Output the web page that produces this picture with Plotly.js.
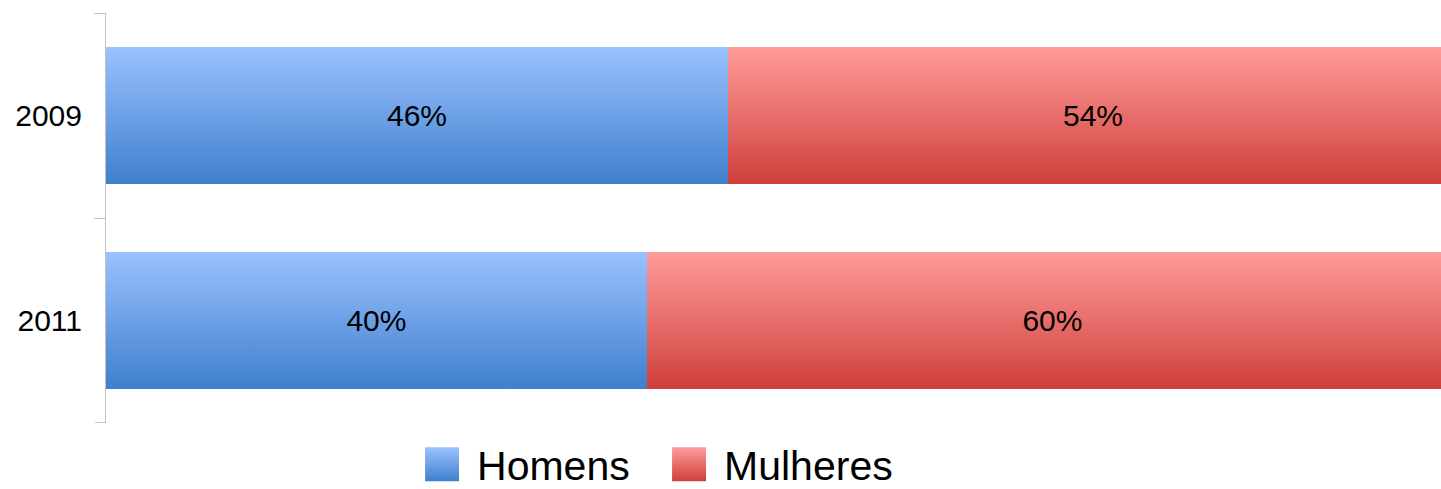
<!DOCTYPE html>
<html>
<head>
<meta charset="utf-8">
<script src="https://cdn.plot.ly/plotly-3.0.1.min.js"></script>
<style>
  html, body { margin: 0; padding: 0; background: #ffffff; }
  #chart { width: 1441px; height: 489px; }
</style>
</head>
<body>
<div id="chart"></div>
<script>
var years = ['2009', '2011'];
var seriesNames = ['Homens', 'Mulheres'];
var homens = [46, 40];
var mulheres = [54, 60];

var gradients = [
  { top: '#9ac2ff', bottom: '#3f7fcd' },
  { top: '#ff9c9a', bottom: '#cf3f3b' }
];
var midColors = ['#6a9ee6', '#e76e6a'];

var fontFamily = '"Liberation Sans", Arial, sans-serif';

function makeTrace(name, vals, color) {
  return {
    type: 'bar',
    orientation: 'h',
    name: name,
    y: years,
    x: vals,
    texttemplate: '%{x}%',
    textposition: 'inside',
    insidetextanchor: 'middle',
    insidetextfont: { family: fontFamily, size: 30, color: '#000000' },
    textangle: 0,
    constraintext: 'none',
    cliponaxis: true,
    marker: { color: color, line: { width: 0 } },
    hoverinfo: 'none'
  };
}

var data = [
  makeTrace(seriesNames[0], homens, midColors[0]),
  makeTrace(seriesNames[1], mulheres, midColors[1])
];

var axisGrey = '#c0c0c0';

var layout = {
  width: 1441,
  height: 489,
  margin: { l: 106, r: 0, t: 13, b: 66, pad: 0, autoexpand: false },
  paper_bgcolor: '#ffffff',
  plot_bgcolor: '#ffffff',
  barmode: 'stack',
  bargap: 0.33,
  font: { family: fontFamily, color: '#000000' },
  showlegend: true,
  legend: {
    orientation: 'h',
    x: 0.233,
    xanchor: 'left',
    y: -0.02,
    yanchor: 'top',
    itemwidth: 50,
    entrywidth: 182,
    font: { family: fontFamily, size: 41, color: '#000000' },
    traceorder: 'normal',
    bgcolor: 'rgba(0,0,0,0)'
  },
  xaxis: {
    range: [0, 98.74],
    visible: false,
    fixedrange: true
  },
  yaxis: {
    type: 'category',
    range: [1.502, -0.502],
    showline: true,
    linecolor: axisGrey,
    linewidth: 1,
    ticks: 'outside',
    tickson: 'boundaries',
    ticklen: 11,
    tickcolor: axisGrey,
    tickwidth: 1,
    showgrid: false,
    zeroline: false,
    ticklabelstandoff: 17,
    tickfont: { family: fontFamily, size: 30, color: '#000000' },
    fixedrange: true
  },
  shapes: [
    {
      type: 'line',
      xref: 'paper', yref: 'y',
      x0: -11 / 1335, x1: 0,
      y0: 1.5, y1: 1.5,
      line: { color: axisGrey, width: 1 },
      layer: 'above'
    }
  ]
};

var gd = document.getElementById('chart');
Plotly.newPlot(gd, data, layout, { staticPlot: true, displayModeBar: false }).then(function () {
  var ns = 'http://www.w3.org/2000/svg';
  var svg = gd.querySelector('svg.main-svg');
  var defs = svg.querySelector('defs');
  if (!defs) { defs = document.createElementNS(ns, 'defs'); svg.insertBefore(defs, svg.firstChild); }
  gradients.forEach(function (g, i) {
    var lg = document.createElementNS(ns, 'linearGradient');
    lg.setAttribute('id', 'barGrad' + i);
    lg.setAttribute('x1', '0'); lg.setAttribute('y1', '0');
    lg.setAttribute('x2', '0'); lg.setAttribute('y2', '1');
    [[0, g.top], [1, g.bottom]].forEach(function (s) {
      var st = document.createElementNS(ns, 'stop');
      st.setAttribute('offset', s[0]);
      st.setAttribute('stop-color', s[1]);
      lg.appendChild(st);
    });
    defs.appendChild(lg);
  });
  var traces = gd.querySelectorAll('.barlayer .trace');
  traces.forEach(function (t, i) {
    t.querySelectorAll('.point path').forEach(function (p) {
      p.style.fill = 'url(#barGrad' + i + ')';
    });
  });
  var legendItems = gd.querySelectorAll('.legend .traces');
  legendItems.forEach(function (item, i) {
    item.querySelectorAll('.legendpoints path').forEach(function (p) {
      p.style.fill = 'url(#barGrad' + i + ')';
      p.setAttribute('transform', 'translate(25,0) scale(2.83)');
    });
  });
});
</script>
</body>
</html>
